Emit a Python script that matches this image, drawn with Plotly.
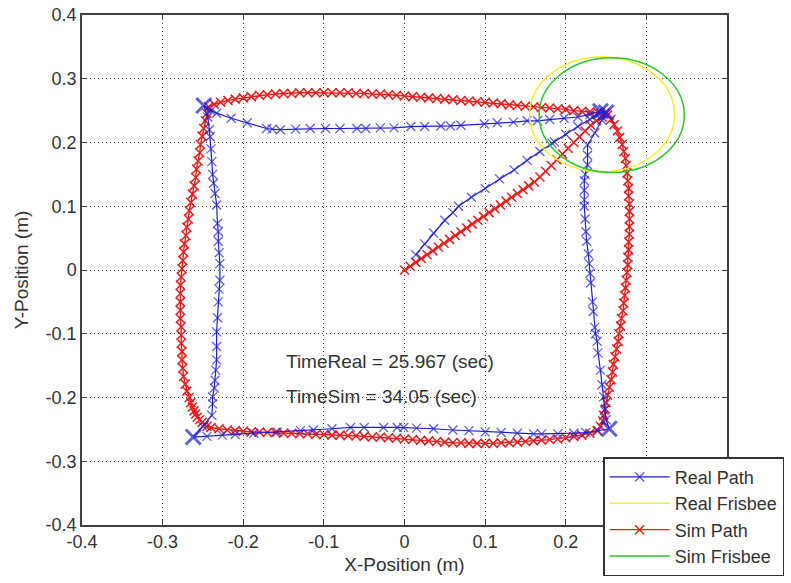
import plotly.graph_objects as go

# ---------------- measured trajectories (metres) ----------------
# Real path, split into its legs so the stop at each corner can be emphasised
real_legs_x = [
    [0.014, 0.025, 0.036, 0.050, 0.060, 0.067, 0.083, 0.100, 0.118, 0.136, 0.152, 0.168,
     0.183, 0.186, 0.200, 0.215, 0.230, 0.243, 0.250],
    [0.245, 0.236, 0.227, 0.227, 0.227, 0.224, 0.223, 0.223, 0.223, 0.223, 0.224, 0.225,
     0.226, 0.228, 0.229, 0.230, 0.231, 0.233, 0.234, 0.236, 0.237, 0.239, 0.240, 0.243,
     0.245, 0.247, 0.248, 0.250, 0.254],
    [0.240, 0.225, 0.210, 0.190, 0.170, 0.160, 0.140, 0.120, 0.100, 0.080, 0.060, 0.036,
     0.015, -0.001, -0.009, -0.026, -0.050, -0.067, -0.090, -0.113, -0.129, -0.158, -0.187,
     -0.210, -0.226, -0.245, -0.262],
    [-0.250, -0.239, -0.238, -0.238, -0.236, -0.235, -0.234, -0.233, -0.233, -0.233, -0.232,
     -0.231, -0.230, -0.229, -0.229, -0.230, -0.231, -0.231, -0.232, -0.233, -0.235, -0.237,
     -0.238, -0.239, -0.240, -0.241, -0.242, -0.244, -0.249],
    [-0.240, -0.233, -0.215, -0.195, -0.171, -0.164, -0.154, -0.135, -0.117, -0.098, -0.080,
     -0.059, -0.048, -0.030, -0.013, 0.008, 0.025, 0.045, 0.057, 0.070, 0.099, 0.115, 0.135,
     0.152, 0.165, 0.180, 0.198, 0.215, 0.230, 0.243],
]
real_legs_y = [
    [0.024, 0.041, 0.058, 0.078, 0.090, 0.100, 0.114, 0.128, 0.143, 0.157, 0.172, 0.186,
     0.199, 0.201, 0.213, 0.225, 0.236, 0.246, 0.247],
    [0.235, 0.215, 0.196, 0.180, 0.165, 0.150, 0.140, 0.125, 0.110, 0.100, 0.080, 0.060,
     0.045, 0.025, 0.010, -0.005, -0.020, -0.050, -0.065, -0.090, -0.100, -0.112, -0.130,
     -0.157, -0.180, -0.199, -0.220, -0.235, -0.249],
    [-0.252, -0.255, -0.256, -0.257, -0.257, -0.257, -0.256, -0.255, -0.254, -0.252, -0.251,
     -0.249, -0.248, -0.247, -0.247, -0.247, -0.247, -0.247, -0.249, -0.251, -0.252, -0.254,
     -0.256, -0.258, -0.259, -0.261, -0.262],
    [-0.245, -0.228, -0.210, -0.199, -0.185, -0.173, -0.157, -0.141, -0.120, -0.097, -0.075,
     -0.050, -0.030, -0.016, 0.010, 0.027, 0.045, 0.060, 0.073, 0.102, 0.120, 0.136, 0.150,
     0.170, 0.190, 0.209, 0.220, 0.240, 0.258],
    [0.250, 0.246, 0.238, 0.231, 0.222, 0.221, 0.220, 0.221, 0.222, 0.222, 0.222, 0.222,
     0.222, 0.223, 0.223, 0.225, 0.225, 0.226, 0.226, 0.227, 0.229, 0.231, 0.232, 0.234,
     0.234, 0.236, 0.238, 0.240, 0.244, 0.249],
]

# Simulated path
sim_x = [
    # launch diagonal
    0.000, 0.007, 0.014, 0.021, 0.028, 0.035, 0.042, 0.049, 0.056, 0.063, 0.070, 0.077,
    0.084, 0.091, 0.098, 0.105, 0.112, 0.119, 0.126, 0.133, 0.140, 0.147, 0.154, 0.161,
    0.168, 0.175, 0.182, 0.189, 0.196, 0.203, 0.210, 0.217, 0.224, 0.231, 0.238, 0.245, 0.250,
    # right side
    0.252, 0.256, 0.260, 0.264, 0.267, 0.270, 0.272, 0.274, 0.275, 0.276, 0.277, 0.278,
    0.278, 0.279, 0.279, 0.279, 0.279, 0.279, 0.278, 0.278, 0.277, 0.277, 0.276, 0.275,
    0.274, 0.273, 0.272, 0.271, 0.269, 0.268, 0.266, 0.265, 0.263, 0.261, 0.259, 0.258,
    0.256, 0.254, 0.252, 0.250, 0.249, 0.247, 0.246, 0.243, 0.239,
    # bottom side
    0.230, 0.220, 0.210, 0.200, 0.190, 0.180, 0.170, 0.160, 0.150, 0.140, 0.130, 0.120,
    0.110, 0.100, 0.090, 0.080, 0.070, 0.060, 0.050, 0.040, 0.030, 0.020, 0.010, 0.000,
    -0.010, -0.020, -0.030, -0.040, -0.050, -0.060, -0.070, -0.080, -0.090, -0.100, -0.110,
    -0.120, -0.130, -0.140, -0.150, -0.160, -0.170, -0.180, -0.190, -0.200, -0.210, -0.220,
    -0.230, -0.240, -0.245, -0.248,
    # left side
    -0.251, -0.254, -0.257, -0.259, -0.261, -0.263, -0.265, -0.267, -0.270, -0.272, -0.274,
    -0.275, -0.276, -0.276, -0.277, -0.277, -0.277, -0.278, -0.278, -0.278, -0.278, -0.278,
    -0.277, -0.276, -0.275, -0.274, -0.273, -0.271, -0.270, -0.268, -0.267, -0.265, -0.263,
    -0.261, -0.259, -0.258, -0.256, -0.254, -0.253, -0.251, -0.249, -0.247, -0.245, -0.243,
    # top side
    -0.236, -0.228, -0.219, -0.210, -0.200, -0.190, -0.180, -0.170, -0.160, -0.150, -0.140,
    -0.130, -0.120, -0.110, -0.100, -0.090, -0.080, -0.070, -0.060, -0.050, -0.040, -0.030,
    -0.020, -0.010, 0.000, 0.010, 0.020, 0.030, 0.040, 0.050, 0.060, 0.070, 0.080, 0.090,
    0.100, 0.110, 0.120, 0.130, 0.140, 0.150, 0.160, 0.170, 0.180, 0.190, 0.200, 0.210,
    0.220, 0.230, 0.240, 0.248,
]
sim_y = [
    0.000, 0.006, 0.012, 0.018, 0.024, 0.030, 0.036, 0.042, 0.048, 0.054, 0.060, 0.066,
    0.072, 0.078, 0.084, 0.090, 0.096, 0.102, 0.108, 0.114, 0.120, 0.126, 0.132, 0.138,
    0.146, 0.155, 0.164, 0.173, 0.182, 0.191, 0.200, 0.209, 0.218, 0.227, 0.234, 0.240, 0.245,
    0.243, 0.236, 0.228, 0.218, 0.208, 0.197, 0.186, 0.175, 0.164, 0.152, 0.140, 0.128,
    0.116, 0.104, 0.092, 0.080, 0.068, 0.056, 0.044, 0.032, 0.020, 0.008, -0.004, -0.016,
    -0.028, -0.040, -0.052, -0.064, -0.076, -0.088, -0.100, -0.112, -0.124, -0.136, -0.148,
    -0.160, -0.172, -0.184, -0.196, -0.208, -0.218, -0.228, -0.237, -0.245, -0.252,
    -0.256, -0.259, -0.261, -0.263, -0.265, -0.266, -0.267, -0.268, -0.269, -0.270, -0.271,
    -0.271, -0.272, -0.272, -0.272, -0.272, -0.271, -0.271, -0.270, -0.269, -0.268, -0.267,
    -0.266, -0.265, -0.264, -0.263, -0.262, -0.262, -0.261, -0.260, -0.260, -0.259, -0.259,
    -0.258, -0.258, -0.257, -0.257, -0.256, -0.256, -0.255, -0.255, -0.254, -0.254, -0.253,
    -0.252, -0.251, -0.249, -0.247, -0.245, -0.243,
    -0.239, -0.235, -0.231, -0.226, -0.221, -0.215, -0.208, -0.200, -0.190, -0.179, -0.167,
    -0.154, -0.141, -0.128, -0.115, -0.102, -0.089, -0.076, -0.063, -0.050, -0.037, -0.024,
    -0.011, 0.002, 0.015, 0.028, 0.041, 0.054, 0.067, 0.080, 0.093, 0.106, 0.119, 0.132,
    0.145, 0.158, 0.171, 0.184, 0.197, 0.210, 0.222, 0.234, 0.246, 0.256,
    0.260, 0.263, 0.266, 0.268, 0.270, 0.272, 0.274, 0.275, 0.276, 0.277, 0.277, 0.278,
    0.278, 0.278, 0.278, 0.278, 0.278, 0.278, 0.277, 0.277, 0.276, 0.276, 0.275, 0.274,
    0.273, 0.272, 0.271, 0.270, 0.269, 0.268, 0.267, 0.266, 0.265, 0.264, 0.263, 0.262,
    0.261, 0.259, 0.258, 0.257, 0.256, 0.255, 0.254, 0.253, 0.252, 0.250, 0.249, 0.248,
    0.247, 0.246,
]

# Frisbee outlines at the final position: centre (x, y) and radius
real_frisbee = [0.245, 0.244, 0.090]
sim_frisbee = [0.257, 0.243, 0.090]

time_real = 25.967
time_sim = 34.05

tick_vals = [-0.4, -0.3, -0.2, -0.1, 0, 0.1, 0.2, 0.3, 0.4]
y_tick_text = ["-0.4", "-0.3", "-0.2", "-0.1", "0", "0.1", "0.2", "0.3", "0.4"]
# the legend box sits over the last two x labels, so those are left blank
x_tick_text = ["-0.4", "-0.3", "-0.2", "-0.1", "0", "0.1", "0.2", "", ""]

# ---------------- styling ----------------
FONT = "Arial, Liberation Sans, sans-serif"
TXT = "#333333"
BLUE = "rgb(30,30,215)"
RED = "rgb(232,28,28)"
YELLOW = "rgb(245,240,40)"
GREEN = "rgb(40,200,40)"

real_x, real_y, real_size, real_lw = [], [], [], []
for lx, ly in zip(real_legs_x, real_legs_y):
    real_x += lx
    real_y += ly
    real_size += [9] * (len(lx) - 1) + [15]
    real_lw += [1.3] * (len(lx) - 1) + [3]

fig = go.Figure()

# simulated path underneath
fig.add_trace(go.Scatter(
    x=sim_x, y=sim_y, mode="lines+markers", name="Sim Path", legendrank=3,
    line=dict(color=RED, width=1.4),
    marker=dict(symbol="x-thin", size=9, line=dict(color=RED, width=1.5)),
))
fig.add_trace(go.Scatter(
    x=real_x, y=real_y, mode="lines+markers", name="Real Path", legendrank=1,
    line=dict(color=BLUE, width=1.2),
    marker=dict(symbol="x-thin", size=real_size, line=dict(color=BLUE, width=real_lw)),
))
# legend entries for the frisbee outlines (outlines themselves are shapes)
fig.add_trace(go.Scatter(x=[None], y=[None], mode="lines", name="Real Frisbee",
                         legendrank=2, line=dict(color=YELLOW, width=1.5)))
fig.add_trace(go.Scatter(x=[None], y=[None], mode="lines", name="Sim Frisbee",
                         legendrank=4, line=dict(color=GREEN, width=1.5)))

for (cx, cy, r), col in ((real_frisbee, YELLOW), (sim_frisbee, GREEN)):
    fig.add_shape(type="circle", xref="x", yref="y",
                  x0=cx - r, x1=cx + r, y0=cy - r, y1=cy + r,
                  line=dict(color=col, width=1.5), layer="above")

fig.add_annotation(x=-0.15, y=-0.144, xref="x", yref="y", xanchor="left",
                   text=f"TimeReal = {time_real} (sec)", showarrow=False,
                   font=dict(family=FONT, size=19, color=TXT))
fig.add_annotation(x=-0.15, y=-0.199, xref="x", yref="y", xanchor="left",
                   text=f"TimeSim = {time_sim} (sec)", showarrow=False,
                   font=dict(family=FONT, size=19, color=TXT))

axis_common = dict(
    range=[-0.4, 0.4], tickvals=tick_vals,
    showgrid=True, gridcolor="#404040", gridwidth=1, griddash="1px,3px",
    zeroline=False, showline=True, linecolor="#404040", linewidth=1.5, mirror="ticks",
    ticks="inside", ticklen=5, tickcolor="#404040",
    tickfont=dict(family=FONT, size=18, color=TXT),
)

fig.update_layout(
    width=791, height=583,
    margin=dict(l=82, r=64, t=15, b=58, autoexpand=False),
    paper_bgcolor="white", plot_bgcolor="white",
    xaxis=dict(**axis_common, ticktext=x_tick_text,
               title=dict(text="X-Position (m)", font=dict(family=FONT, size=19, color=TXT),
                          standoff=6)),
    yaxis=dict(**axis_common, ticktext=y_tick_text,
               title=dict(text="Y-Position (m)", font=dict(family=FONT, size=19, color=TXT),
                          standoff=12)),
    legend=dict(x=0.808, y=0.133, xanchor="left", yanchor="top",
                bgcolor="white", bordercolor="#333333", borderwidth=1.5,
                itemwidth=60, tracegroupgap=0,
                font=dict(family=FONT, size=18, color=TXT)),
    showlegend=True,
)

fig.write_html("out.html")
